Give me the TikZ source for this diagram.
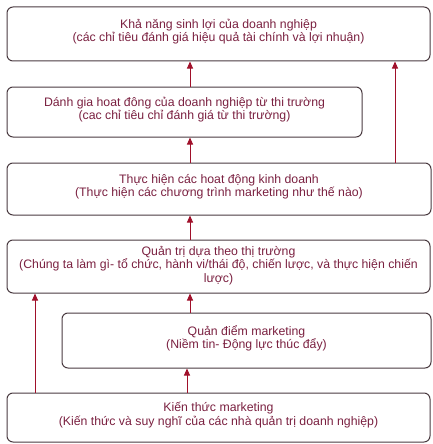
\documentclass[tikz,border=0pt]{standalone}
\usepackage{fontspec}
\setmainfont{Liberation Sans}
\usetikzlibrary{arrows.meta}
\definecolor{txt}{HTML}{7A2040}
\definecolor{edge}{HTML}{4A3A40}
\definecolor{arr}{HTML}{A0102A}
\tikzset{
  box/.style={draw=edge, line width=1pt, rounded corners=6pt, inner sep=0pt},
  boxtext/.style={inner sep=0pt, align=center, text=txt, font=\fontsize{12.3}{13.2}\selectfont},
  uparrow/.style={draw=arr, line width=1pt, -{Triangle[length=7pt,width=6pt]}}
}
\begin{document}
\begin{tikzpicture}[x=1pt,y=1pt]
\useasboundingbox (0,0) rectangle (433,-444);
\node[box, minimum width=423pt, minimum height=54pt] (b1) at (218.5,-34) {};
\node[box, minimum width=355pt, minimum height=50pt] (b2) at (184.5,-112) {};
\node[box, minimum width=424pt, minimum height=52pt] (b3) at (219,-189) {};
\node[box, minimum width=423pt, minimum height=53pt] (b4) at (218.5,-266.5) {};
\node[box, minimum width=369pt, minimum height=55pt] (b5) at (246.5,-340.5) {};
\node[box, minimum width=423pt, minimum height=49pt] (b6) at (218.5,-417.5) {};
\node[boxtext] (t1) at ([yshift=2.5pt]b1.center)
  {Khả năng sinh lợi của doanh nghiệp\\(các chỉ tiêu đánh giá hiệu quả tài chính và lợi nhuận)};
\node[boxtext] (t2) at ([yshift=2.5pt]b2.center)
  {Dánh gia hoat đông của doanh nghiệp từ thi trường\\(cac chỉ tiêu chỉ đánh giá từ thi trường)};
\node[boxtext] (t3) at ([yshift=2.5pt]b3.center)
  {Thực hiện các hoat động kinh doanh\\(Thực hiện các chương trình marketing như thế nào)};
\node[boxtext] (t4) at ([yshift=1pt]b4.center)
  {Quản trị dựa theo thị trường\\(Chúng ta làm gì- tổ chức, hành vi/thái độ, chiến lược, và thực hiện chiến\\lược)};
\node[boxtext] (t5) at ([yshift=2.5pt]b5.center)
  {Quản điểm marketing\\(Niềm tin- Động lực thúc đẩy)};
\node[boxtext] (t6) at ([yshift=2.5pt]b6.center)
  {Kiến thức marketing\\(Kiến thức và suy nghĩ của các nhà quản trị doanh nghiệp)};
\coordinate (cx) at (190,0);
\coordinate (cx2) at (187,0);
\coordinate (lx) at (35,0);
\coordinate (rx) at (395,0);
\draw[uparrow] (b2.north -| cx) -- (b1.south -| cx);
\draw[uparrow] (b3.north -| cx) -- (b2.south -| cx);
\draw[uparrow] (b4.north -| cx) -- (b3.south -| cx);
\draw[uparrow] (b5.north -| cx) -- (b4.south -| cx);
\draw[uparrow] (b6.north -| cx2) -- (b5.south -| cx2);
\draw[uparrow] (b6.north -| lx) -- (b4.south -| lx);
\draw[uparrow] (b3.north -| rx) -- (b1.south -| rx);
\end{tikzpicture}
\end{document}
